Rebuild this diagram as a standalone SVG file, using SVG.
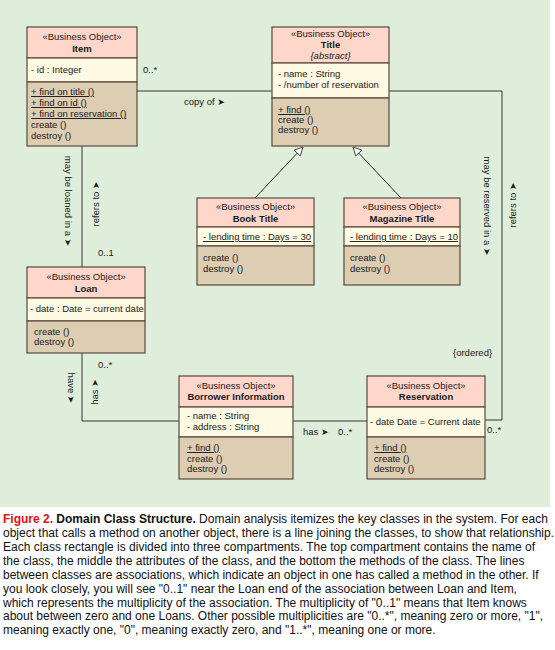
<svg xmlns="http://www.w3.org/2000/svg" width="555" height="650" viewBox="0 0 555 650">
<style>
.hd{fill:#ffd6ca;stroke:#5a4a3c;stroke-width:1.2}
.at{fill:#fffae4;stroke:#5a4a3c;stroke-width:1.2}
.mt{fill:#dccdb3;stroke:#5a4a3c;stroke-width:1.2}
.t{font-family:"Liberation Sans",Arial,sans-serif;font-size:9.5px;fill:#1a1a1a}
.b{font-weight:bold}
.c{text-anchor:middle}
.u{text-decoration:underline}
.i{font-style:italic}
.ln{stroke:#333;stroke-width:1;fill:none}
.ar{font-family:"DejaVu Sans",sans-serif;font-size:9px}
.cap{font-family:"Liberation Sans",Arial,sans-serif;font-size:12px;fill:#111}
</style>
<defs>
<marker id="gen" viewBox="0 0 12 12" refX="11" refY="6" markerWidth="10" markerHeight="10" markerUnits="userSpaceOnUse" orient="auto">
<path d="M1,1 L11,6 L1,11 Z" fill="#fff" stroke="#333" stroke-width="1"/>
</marker>
</defs>
<rect x="0" y="0" width="550" height="507" fill="#deeedb"/>
<rect x="0" y="507" width="555" height="143" fill="#fff"/>

<g id="connectors">
<path class="ln" d="M137,91 H272"/>
<path class="ln" d="M389,91 H502 V420 H485"/>
<path class="ln" d="M82,146 V267"/>
<path class="ln" d="M82,353 V421 H179"/>
<path class="ln" d="M293,421 H367"/>
<path class="ln" d="M255,198 L303,147" marker-end="url(#gen)"/>
<path class="ln" d="M401,198 L353,147" marker-end="url(#gen)"/>
<text class="t" x="143" y="73">0..*</text>
<text class="t" x="184" y="105">copy of <tspan class="ar">➤</tspan></text>
<text class="t" x="98" y="256">0..1</text>
<text class="t c" transform="translate(68,201) rotate(90)" y="3">may be loaned in a <tspan class="ar">➤</tspan></text>
<text class="t c" transform="translate(96,204) rotate(-90)" y="3">refers to <tspan class="ar">➤</tspan></text>
<text class="t" x="98" y="368">0..*</text>
<text class="t c" transform="translate(71,388) rotate(90)" y="3">have <tspan class="ar">➤</tspan></text>
<text class="t c" transform="translate(95,392) rotate(-90)" y="3">has <tspan class="ar">➤</tspan></text>
<text class="t" x="303" y="435">has <tspan class="ar">➤</tspan></text>
<text class="t" x="338" y="435">0..*</text>
<text class="t" x="487" y="433">0..*</text>
<text class="t" x="453" y="356">{ordered}</text>
<text class="t c" transform="translate(487,206) rotate(90)" y="3">may be reserved in a <tspan class="ar">➤</tspan></text>
<text class="t c" transform="translate(513,205) rotate(-90)" y="3">refers to <tspan class="ar">➤</tspan></text>
</g>

<g id="item">
<rect class="hd" x="27" y="27" width="110" height="31"/>
<rect class="at" x="27" y="58" width="110" height="24"/>
<rect class="mt" x="27" y="82" width="110" height="64"/>
<text class="t c" x="82" y="40">«Business Object»</text>
<text class="t c b" x="82" y="52">Item</text>
<text class="t" x="31" y="73">- id : Integer</text>
<text class="t u" x="31" y="95">+ find on title ()</text>
<text class="t u" x="31" y="106">+ find on id ()</text>
<text class="t u" x="31" y="117">+ find on reservation ()</text>
<text class="t" x="31" y="128">create ()</text>
<text class="t" x="31" y="139">destroy ()</text>
</g>

<g id="title">
<rect class="hd" x="272" y="27" width="117" height="36"/>
<rect class="at" x="272" y="63" width="117" height="35"/>
<rect class="mt" x="272" y="98" width="117" height="48"/>
<text class="t c" x="330.5" y="37">«Business Object»</text>
<text class="t c b" x="330.5" y="48">Title</text>
<text class="t c i" x="330.5" y="59">{abstract}</text>
<text class="t" x="278" y="77">- name : String</text>
<text class="t" x="278" y="88">- /number of reservation</text>
<text class="t u" x="278" y="113">+ find ()</text>
<text class="t" x="278" y="123">create ()</text>
<text class="t" x="278" y="133">destroy ()</text>
</g>

<g id="book-title">
<rect class="hd" x="197" y="198" width="117" height="29"/>
<rect class="at" x="197" y="227" width="117" height="19"/>
<rect class="mt" x="197" y="246" width="117" height="39"/>
<text class="t c" x="255.5" y="210">«Business Object»</text>
<text class="t c b" x="255.5" y="222">Book Title</text>
<text class="t u" x="203" y="240">- lending time : Days = 30</text>
<text class="t" x="203" y="261">create ()</text>
<text class="t" x="203" y="272">destroy ()</text>
</g>

<g id="magazine-title">
<rect class="hd" x="344" y="198" width="116" height="29"/>
<rect class="at" x="344" y="227" width="116" height="19"/>
<rect class="mt" x="344" y="246" width="116" height="39"/>
<text class="t c" x="402" y="210">«Business Object»</text>
<text class="t c b" x="402" y="222">Magazine Title</text>
<text class="t u" x="350" y="240">- lending time : Days = 10</text>
<text class="t" x="350" y="261">create ()</text>
<text class="t" x="350" y="272">destroy ()</text>
</g>

<g id="loan">
<rect class="hd" x="27" y="267" width="118" height="31"/>
<rect class="at" x="27" y="298" width="118" height="23"/>
<rect class="mt" x="27" y="321" width="118" height="32"/>
<text class="t c" x="86" y="280">«Business Object»</text>
<text class="t c b" x="86" y="292">Loan</text>
<text class="t" x="30" y="312">- date : Date = current date</text>
<text class="t" x="34" y="335">create ()</text>
<text class="t" x="34" y="345">destroy ()</text>
</g>

<g id="borrower-information">
<rect class="hd" x="179" y="376" width="114" height="31"/>
<rect class="at" x="179" y="407" width="114" height="30"/>
<rect class="mt" x="179" y="437" width="114" height="42"/>
<text class="t c" x="236" y="389">«Business Object»</text>
<text class="t c b" x="236" y="400">Borrower Information</text>
<text class="t" x="187" y="419">- name : String</text>
<text class="t" x="187" y="430">- address : String</text>
<text class="t u" x="187" y="451">+ find ()</text>
<text class="t" x="187" y="462">create ()</text>
<text class="t" x="187" y="472">destroy ()</text>
</g>

<g id="reservation">
<rect class="hd" x="367" y="376" width="118" height="31"/>
<rect class="at" x="367" y="407" width="118" height="30"/>
<rect class="mt" x="367" y="437" width="118" height="42"/>
<text class="t c" x="426" y="389">«Business Object»</text>
<text class="t c b" x="426" y="400">Reservation</text>
<text class="t" x="370" y="425">- date Date = Current date</text>
<text class="t u" x="374" y="451">+ find ()</text>
<text class="t" x="374" y="462">create ()</text>
<text class="t" x="374" y="472">destroy ()</text>
</g>

<g id="caption">
<text class="cap" x="3" y="523"><tspan fill="#e01010" font-weight="bold">Figure 2.</tspan> <tspan font-weight="bold">Domain Class Structure.</tspan> Domain analysis itemizes the key classes in the system. For each</text>
<text class="cap" x="3" y="537">object that calls a method on another object, there is a line joining the classes, to show that relationship.</text>
<text class="cap" x="3" y="551">Each class rectangle is divided into three compartments. The top compartment contains the name of</text>
<text class="cap" x="3" y="565">the class, the middle the attributes of the class, and the bottom the methods of the class. The lines</text>
<text class="cap" x="3" y="579">between classes are associations, which indicate an object in one has called a method in the other. If</text>
<text class="cap" x="3" y="593">you look closely, you will see "0..1" near the Loan end of the association between Loan and Item,</text>
<text class="cap" x="3" y="607">which represents the multiplicity of the association. The multiplicity of "0..1" means that Item knows</text>
<text class="cap" x="3" y="620">about between zero and one Loans. Other possible multiplicities are "0..*", meaning zero or more, "1",</text>
<text class="cap" x="3" y="634">meaning exactly one, "0", meaning exactly zero, and "1..*", meaning one or more.</text>
</g>
</svg>
